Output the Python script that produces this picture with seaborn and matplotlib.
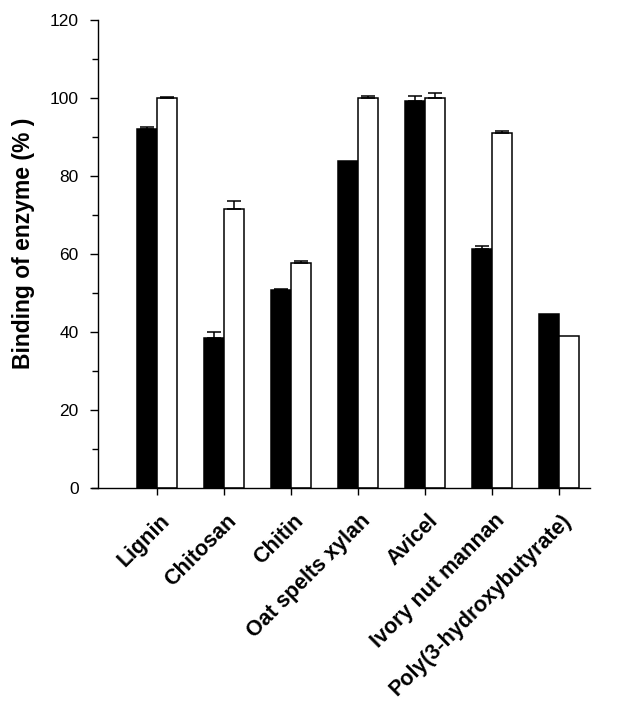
import matplotlib
matplotlib.use("Agg")
import matplotlib.pyplot as plt
import matplotlib.transforms as mtransforms
import seaborn as sns
import numpy as np
import pandas as pd
from matplotlib.ticker import MultipleLocator

categories = ["Lignin", "Chitosan", "Chitin", "Oat spelts xylan", "Avicel",
              "Ivory nut mannan", "Poly(3-hydroxybutyrate)"]
series_names = ["A", "B"]
black_vals = [92.0, 38.5, 50.8, 83.8, 99.2, 61.2, 44.5]
black_err = [0.5, 1.4, 0.3, 0.0, 1.2, 0.8, 0.0]
white_vals = [100.0, 71.5, 57.7, 100.0, 100.0, 91.0, 39.0]
white_err = [0.3, 2.0, 0.4, 0.4, 1.2, 0.5, 0.0]

df = pd.DataFrame({
    "cat": categories * 2,
    "series": [series_names[0]] * len(categories) + [series_names[1]] * len(categories),
    "val": black_vals + white_vals,
    "err": black_err + white_err,
})

sns.set_theme(style="white")
plt.rcParams["font.family"] = ["Liberation Sans", "DejaVu Sans"]
plt.rcParams["text.color"] = "black"
plt.rcParams["axes.labelcolor"] = "black"
plt.rcParams["xtick.color"] = "black"
plt.rcParams["ytick.color"] = "black"

fig = plt.figure(figsize=(6.26, 7.09), dpi=100)
W, H = 626, 709
ax = fig.add_axes([92 / W, (H - 488) / H, (590 - 92) / W, (488 - 20) / H])

sns.barplot(data=df, x="cat", y="val", hue="series", palette=["black", "white"],
            edgecolor="black", linewidth=1.1, width=0.6, errorbar=None,
            legend=False, ax=ax, saturation=1)

# error bars (upper only) placed on bar centres
for patch, (_, row) in zip(ax.patches, df.iterrows()):
    if row["err"] > 0:
        xc = patch.get_x() + patch.get_width() / 2
        ax.errorbar([xc], [row["val"]], yerr=[[0], [row["err"]]], fmt="none",
                    ecolor="black", elinewidth=1.1, capsize=5, capthick=1.1)

ax.set_xlim(-0.97, 6.46)
ax.set_ylim(0, 120)
ax.spines["left"].set_position(("data", -0.88))
ax.spines["top"].set_visible(False)
ax.spines["right"].set_visible(False)
for s in ["left", "bottom"]:
    ax.spines[s].set_color("black")
    ax.spines[s].set_linewidth(1.0)

ax.yaxis.set_major_locator(MultipleLocator(20))
ax.yaxis.set_minor_locator(MultipleLocator(10))
ax.tick_params(axis="y", which="major", direction="out", length=6, width=1,
               color="black", labelcolor="black", left=True, labelsize=12.5, pad=8)
ax.tick_params(axis="y", which="minor", direction="out", length=4, width=1,
               color="black", left=True)
ax.tick_params(axis="x", which="major", direction="out", length=5, width=1,
               color="black", labelcolor="black", bottom=True, pad=11)

ax.set_xlabel("")
ax.set_ylabel("Binding of enzyme (% )", fontsize=16.5, fontweight="bold",
              labelpad=10.5, color="black")
ax.yaxis.label.set_y(0.522)
ax.set_xticks(range(len(categories)))
ax.set_xticklabels(categories, rotation=45, ha="right", va="top",
                   rotation_mode="anchor", fontsize=15.5, fontweight="bold")
shift = mtransforms.ScaledTranslation(1.5 / 72, 0, fig.dpi_scale_trans)
for lbl in ax.get_xticklabels():
    lbl.set_transform(lbl.get_transform() + shift)

fig.savefig("out.png", dpi=100)
